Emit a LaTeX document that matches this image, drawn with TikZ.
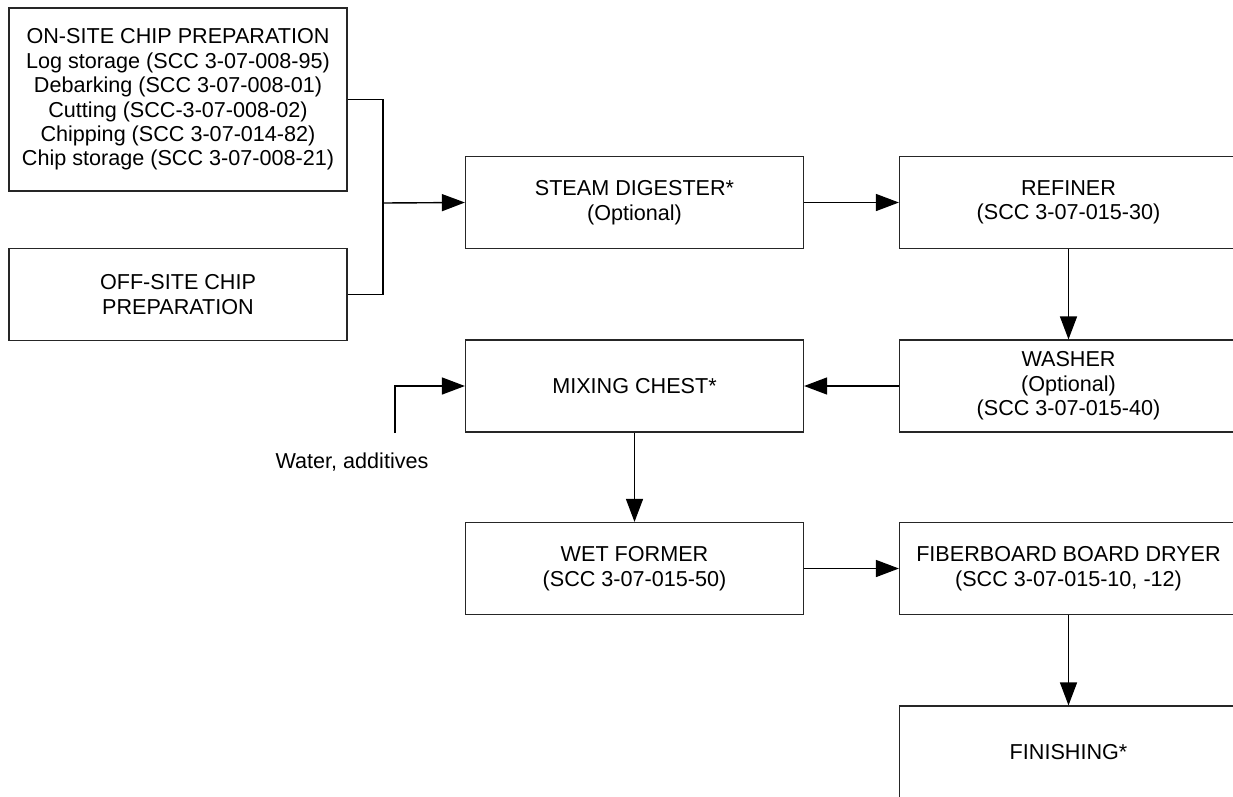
\documentclass[tikz,border=0pt]{standalone}
\usepackage{fontspec}
\setmainfont{Liberation Sans}
\usetikzlibrary{arrows.meta}
\begin{document}
\begin{tikzpicture}[x=1pt,y=-1pt,
  box/.style={draw=black!85, line width=1.2pt, rectangle, align=center, inner sep=0pt,
    minimum width=338pt, minimum height=92pt,
    font=\fontsize{21.6}{24.4}\selectfont},
  conn/.style={draw=black, line width=1.4pt},
  arr/.style={conn, -{Triangle[length=23pt,width=17pt]}},
  lbl/.style={font=\fontsize{21.6}{24.4}\selectfont, inner sep=0pt}]
\useasboundingbox (0,0) rectangle (1233,796);
\clip (0,0) rectangle (1233,796);
\node[box, minimum height=183pt] (onsite) at (178,99.5)
  {ON-SITE CHIP PREPARATION\\Log storage (SCC 3-07-008-95)\\Debarking (SCC 3-07-008-01)\\Cutting (SCC-3-07-008-02)\\Chipping (SCC 3-07-014-82)\\Chip storage (SCC 3-07-008-21)};
\node[box] (offsite) at (178,294.5) {OFF-SITE CHIP\\PREPARATION};
\node[box] (steam) at (634.5,202.5) {STEAM DIGESTER*\\(Optional)};
\node[box] (refiner) at (1068.5,202.5) {REFINER\\(SCC 3-07-015-30)};
\node[box] (washer) at (1068.5,386) {WASHER\\(Optional)\\(SCC 3-07-015-40)};
\node[box] (mixing) at (634.5,386) {MIXING CHEST*};
\node[box] (wet) at (634.5,568.5) {WET FORMER\\(SCC 3-07-015-50)};
\node[box] (dryer) at (1068.5,568.5) {FIBERBOARD BOARD DRYER\\(SCC 3-07-015-10, -12)};
\node[box] (finish) at (1068.5,752) {FINISHING*};
\node[lbl] (water) at (352,462) {Water, additives};
\coordinate (j) at (383,203);
\coordinate (w) at (395,433);
\draw[conn] (onsite.east) -| (j) |- (offsite.east);
\draw[arr] (j) -- (steam.west);
\draw[arr] (steam.east) -- (refiner.west);
\draw[arr] (refiner.south) -- (washer.north);
\draw[arr] (washer.west) -- (mixing.east);
\draw[arr] (w) |- (mixing.west);
\draw[arr] (mixing.south) -- (wet.north);
\draw[arr] (wet.east) -- (dryer.west);
\draw[arr] (dryer.south) -- (finish.north);
\end{tikzpicture}
\end{document}
